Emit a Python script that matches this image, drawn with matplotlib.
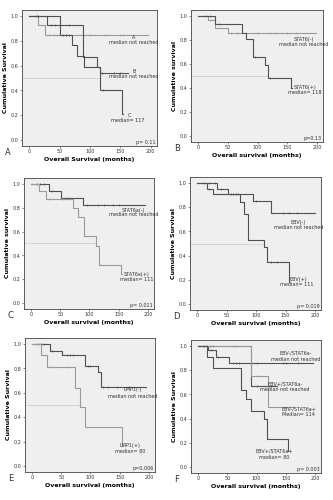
import matplotlib
matplotlib.use("Agg")
import matplotlib.pyplot as plt

# ---- data (months, survival after each step) ----
# Panel A
A_a_t = [0, 15, 26, 196]
A_a_s = [1.0, 0.93, 0.85, 0.85]
A_a_c = [10, 33, 40, 45, 60, 100, 125, 150, 155]
A_b_t = [0, 29, 89, 111, 116, 163]
A_b_s = [1.0, 0.93, 0.67, 0.59, 0.54, 0.54]
A_b_c = [12, 15, 35, 42, 65, 120, 140, 150]
A_c_t = [0, 50, 70, 78, 90, 116, 152, 155]
A_c_s = [1.0, 0.85, 0.77, 0.68, 0.59, 0.40, 0.21, 0.21]
A_c_c = [55, 60, 65, 122]

# Panel B
B_n_t = [0, 16, 28, 50, 198]
B_n_s = [1.0, 0.97, 0.90, 0.86, 0.86]
B_n_c = [10, 14, 22, 55, 65, 80, 100, 120, 130, 150, 165]
B_p_t = [0, 28, 73, 81, 92, 113, 118, 156, 158]
B_p_s = [1.0, 0.93, 0.86, 0.81, 0.66, 0.59, 0.48, 0.40, 0.40]
B_p_c = [20, 35, 95, 120]

# Panel C
C_n_t = [0, 30, 52, 89, 195]
C_n_s = [1.0, 0.94, 0.886, 0.82, 0.82]
C_n_c = [10, 15, 22, 36, 60, 65, 95, 115, 125, 140, 150]
C_p_t = [0, 14, 26, 71, 81, 90, 111, 117, 153, 156]
C_p_s = [1.0, 0.94, 0.87, 0.80, 0.72, 0.56, 0.48, 0.32, 0.24, 0.24]
C_p_c = [30, 55, 60, 120]

# Panel D
D_n_t = [0, 33, 52, 95, 125, 199]
D_n_s = [1.0, 0.95, 0.91, 0.85, 0.755, 0.755]
D_n_c = [12, 20, 30, 40, 58, 65, 70, 100, 145, 155, 170]
D_p_t = [0, 16, 26, 73, 80, 86, 113, 118, 155, 156]
D_p_s = [1.0, 0.95, 0.91, 0.84, 0.74, 0.53, 0.47, 0.35, 0.18, 0.18]
D_p_c = [20, 60, 125, 135]

# Panel E
E_n_t = [0, 30, 52, 91, 112, 118, 195]
E_n_s = [1.0, 0.94, 0.91, 0.82, 0.77, 0.65, 0.65]
E_n_c = [10, 15, 20, 35, 60, 65, 70, 95, 100, 122, 130, 145, 165]
E_p_t = [0, 16, 26, 73, 82, 90, 153, 155]
E_p_s = [1.0, 0.91, 0.81, 0.64, 0.48, 0.32, 0.16, 0.16]
E_p_c = [30, 60]

# Panel F
F_1_t = [0, 16, 30, 52, 196]
F_1_s = [1.0, 0.97, 0.91, 0.86, 0.86]
F_1_c = [10, 15, 22, 34, 60, 65, 70, 100, 145, 150, 170]
F_2_t = [0, 90, 135]
F_2_s = [1.0, 0.67, 0.67]
F_2_c = [20, 25, 100]
F_3_t = [0, 90, 119, 164]
F_3_s = [1.0, 0.75, 0.50, 0.50]
F_3_c = [60, 65, 100]
F_4_t = [0, 15, 26, 73, 82, 90, 113, 118, 153, 154]
F_4_s = [1.0, 0.91, 0.82, 0.64, 0.56, 0.46, 0.40, 0.23, 0.13, 0.13]
F_4_c = []

yticks = [0.0, 0.2, 0.4, 0.6, 0.8, 1.0]
ytick_labels = ["0,0", "0,2", "0,4", "0,6", "0,8", "1,0"]
xticks = [0, 50, 100, 150, 200]

DARK = "#505050"
LIGHT = "#9a9a9a"
BG = "#efefef"

fig = plt.figure(figsize=(3.33, 5.0), dpi=100)


def step_at(t, s, x):
    val = s[0]
    for ti, si in zip(t, s):
        if ti <= x:
            val = si
    return val


def km(ax, t, s, cens, color):
    ax.step(t, s, where="post", color=color, lw=0.8)
    cy = [step_at(t, s, c) for c in cens]
    ax.plot(cens, cy, ls="none", marker="|", ms=2, mew=0.5, color=color)


def setup(ax, letter, ylabel, xlabel, pval, median_x):
    ax.set_facecolor(BG)
    ax.set_xlim(-12, 210)
    ax.set_ylim(-0.05, 1.05)
    ax.set_xticks(xticks)
    ax.set_yticks(yticks)
    ax.set_yticklabels(ytick_labels)
    ax.tick_params(labelsize=3.5, length=1.5, width=0.4, pad=1, colors="#333333")
    for sp in ax.spines.values():
        sp.set_linewidth(0.6)
        sp.set_color("#444444")
    ax.set_ylabel(ylabel, fontsize=4.5, fontweight="bold", labelpad=2)
    ax.set_xlabel(xlabel, fontsize=4.5, fontweight="bold", labelpad=1.5)
    if median_x is not None:
        ax.plot([-12, median_x], [0.5, 0.5], color="#cfcfcf", lw=0.6, zorder=1)
    ax.text(0.99, 0.01, pval, transform=ax.transAxes, ha="right", va="bottom",
            fontsize=3.5, color="#333333")
    ax.text(-0.13, -0.05, letter, transform=ax.transAxes, ha="left", va="center",
            fontsize=6, color="#333333")


def lab(ax, x, y, s, ha="center"):
    ax.text(x, y, s, fontsize=3.5, ha=ha, va="center", color="#333333")


# A
ax = fig.add_axes([0.066, 0.708, 0.405, 0.272])
setup(ax, "A", "Cumulative Survival", "Overall Survival (months)", "p= 0.11", 118)
km(ax, A_a_t, A_a_s, A_a_c, LIGHT)
km(ax, A_b_t, A_b_s, A_b_c, DARK)
km(ax, A_c_t, A_c_s, A_c_c, DARK)
lab(ax, 172, 0.83, "A")
lab(ax, 172, 0.79, "median not reached")
lab(ax, 172, 0.55, "B")
lab(ax, 172, 0.51, "median not reached")
lab(ax, 165, 0.20, "C")
lab(ax, 162, 0.16, "median= 117")

# B
ax = fig.add_axes([0.574, 0.716, 0.396, 0.264])
setup(ax, "B", "Cumulative survival", "Overall survival (months)", "p=0.13", 118)
km(ax, B_n_t, B_n_s, B_n_c, LIGHT)
km(ax, B_p_t, B_p_s, B_p_c, DARK)
lab(ax, 177, 0.80, "STAT6(-)")
lab(ax, 177, 0.76, "median not reached")
lab(ax, 180, 0.40, "STAT6(+)")
lab(ax, 180, 0.36, "median= 118")

# C
ax = fig.add_axes([0.072, 0.382, 0.390, 0.262])
setup(ax, "C", "Cumulative survival", "Overall survival (months)", "p= 0.011", 111)
km(ax, C_n_t, C_n_s, C_n_c, DARK)
km(ax, C_p_t, C_p_s, C_p_c, LIGHT)
lab(ax, 175, 0.78, "STAT6a(-)")
lab(ax, 175, 0.74, "median not reached")
lab(ax, 180, 0.24, "STAT6a(+)")
lab(ax, 180, 0.20, "median= 111")

# D
ax = fig.add_axes([0.571, 0.380, 0.393, 0.266])
setup(ax, "D", "Cumulative Survival", "Overall survival (months)", "p= 0.019", 112)
km(ax, D_n_t, D_n_s, D_n_c, DARK)
km(ax, D_p_t, D_p_s, D_p_c, DARK)
lab(ax, 172, 0.67, "EBV(-)")
lab(ax, 172, 0.63, "median not reached")
lab(ax, 172, 0.20, "EBV(+)")
lab(ax, 168, 0.16, "median= 111")

# E
ax = fig.add_axes([0.075, 0.056, 0.390, 0.268])
setup(ax, "E", "Cumulative Survival", "Overall survival (months)", "p=0.006", 80)
km(ax, E_n_t, E_n_s, E_n_c, DARK)
km(ax, E_p_t, E_p_s, E_p_c, LIGHT)
lab(ax, 172, 0.63, "LMP1(-)")
lab(ax, 172, 0.57, "median not reached")
lab(ax, 168, 0.17, "LMP1(+)")
lab(ax, 168, 0.12, "median= 80")

# F
ax = fig.add_axes([0.574, 0.054, 0.390, 0.266])
setup(ax, "F", "Cumulative Survival", "Overall survival (months)", "p= 0.003", None)
km(ax, F_1_t, F_1_s, F_1_c, DARK)
km(ax, F_2_t, F_2_s, F_2_c, DARK)
km(ax, F_3_t, F_3_s, F_3_c, LIGHT)
km(ax, F_4_t, F_4_s, F_4_c, DARK)
lab(ax, 167, 0.94, "EBV-/STAT6a-")
lab(ax, 167, 0.89, "median not reached")
lab(ax, 148, 0.69, "EBV+/STAT6a-")
lab(ax, 148, 0.64, "median not reached")
lab(ax, 172, 0.48, "EBV-/STAT6a+")
lab(ax, 172, 0.43, "Median= 114")
lab(ax, 130, 0.13, "EBV+/STAT6a+")
lab(ax, 130, 0.08, "median= 80")

fig.savefig("out.png", dpi=100)
